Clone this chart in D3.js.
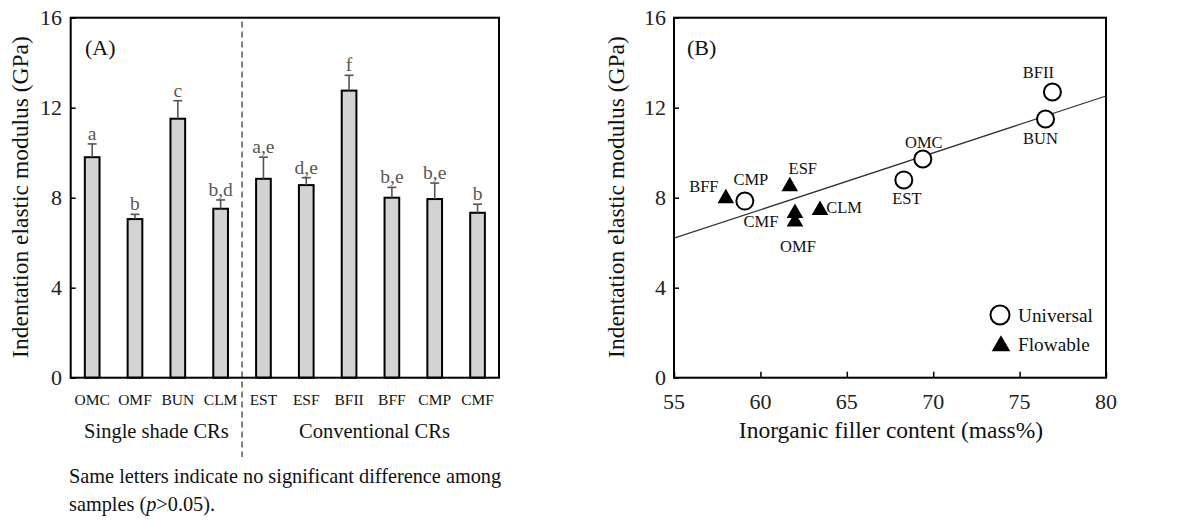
<!DOCTYPE html>
<html><head><meta charset="utf-8">
<script src="https://cdn.jsdelivr.net/npm/d3@7"></script>
<style>body{margin:0;background:#fff}svg{display:block}text{font-family:"Liberation Serif","DejaVu Serif",serif}</style>
</head><body><svg id="c" width="1196" height="520"></svg>
<script>
// Panel A data
const categories = ["OMC","OMF","BUN","CLM","EST","ESF","BFII","BFF","CMP","CMF"];
const means = [9.80,7.05,11.51,7.51,8.84,8.56,12.76,8.00,7.94,7.33];
const errors = [0.59,0.21,0.80,0.39,0.96,0.33,0.68,0.46,0.71,0.38];
const letters = ["a","b","c","b,d","a,e","d,e","f","b,e","b,e","b"];
const groups = [{name:"Single shade CRs",from:0,to:3},{name:"Conventional CRs",from:4,to:9}];
const yTicks = [0,4,8,12,16];
// Panel B data
const uniNames = ["BFII","BUN","OMC","EST","CMP"];
const uniX = [76.9,76.5,69.4,68.3,59.1];
const uniY = [12.7,11.5,9.72,8.79,7.85];
const flowNames = ["BFF","ESF","CMF","OMF","CLM"];
const flowX = [58.0,61.7,62.0,62.0,63.45];
const flowY = [7.97,8.5,7.31,6.93,7.45];
const xTicksB = [55,60,65,70,75,80];
const fitLine = [[55,6.20],[80,12.52]];

const svg = d3.select("#c");
const top0 = 17.7, bot = 377.7;
const y = d3.scaleLinear().domain([0,16]).range([bot, top0]);
const ink = "#111";

// ---------- Panel A ----------
const gA = svg.append("g");
const xA = d3.scaleBand().domain(categories).range([70.7, 499]).paddingInner(0.657).paddingOuter(0.33);
gA.selectAll("rect.bar").data(categories).join("rect")
  .attr("x", d=>xA(d)).attr("width", xA.bandwidth())
  .attr("y", (d,i)=>y(means[i])).attr("height",(d,i)=>y(0)-y(means[i]))
  .attr("fill","#d3d3d3").attr("stroke","#000").attr("stroke-width",2);
const cx = d=>xA(d)+xA.bandwidth()/2;
gA.selectAll("line.err").data(categories).join("line")
  .attr("x1",cx).attr("x2",cx)
  .attr("y1",(d,i)=>y(means[i])).attr("y2",(d,i)=>y(means[i]+errors[i]))
  .attr("stroke","#555").attr("stroke-width",1.6);
gA.selectAll("line.cap").data(categories).join("line")
  .attr("x1",d=>cx(d)-4.5).attr("x2",d=>cx(d)+4.5)
  .attr("y1",(d,i)=>y(means[i]+errors[i])).attr("y2",(d,i)=>y(means[i]+errors[i]))
  .attr("stroke","#555").attr("stroke-width",1.6);
gA.selectAll("text.let").data(categories).join("text")
  .attr("x",cx).attr("y",(d,i)=>y(means[i]+errors[i])-4)
  .attr("text-anchor","middle").attr("font-size",19.5).attr("fill","#5b5650")
  .text((d,i)=>letters[i]);
gA.append("rect").attr("x",70.7).attr("y",top0).attr("width",499-70.7).attr("height",bot-top0)
  .attr("fill","none").attr("stroke","#000").attr("stroke-width",2);
const yAxA = gA.append("g").attr("transform","translate(70.7,0)")
  .call(d3.axisRight(y).tickValues(yTicks).tickSize(5).tickFormat(""));
yAxA.select(".domain").remove();
yAxA.selectAll("line").attr("stroke","#000").attr("stroke-width",1.5);
gA.selectAll("text.yt").data(yTicks).join("text")
  .attr("x",62).attr("y",d=>y(d)).attr("dy","0.35em").attr("text-anchor","end")
  .attr("font-size",22).attr("fill","#222").text(d=>d);
const sepX = xA(categories[4]) - xA.step()*xA.paddingInner()/2;
gA.append("line").attr("x1",sepX).attr("x2",sepX).attr("y1",21.5).attr("y2",457)
  .attr("stroke","#000").attr("stroke-width",1).attr("stroke-dasharray","6,4");
gA.selectAll("text.cat").data(categories).join("text")
  .attr("x",cx).attr("y",405).attr("text-anchor","middle").attr("font-size",15.5).attr("fill",ink)
  .text(d=>d);
gA.selectAll("text.grp").data(groups).join("text")
  .attr("x",d=>(cx(categories[d.from])+cx(categories[d.to]))/2 + (d.from===0?0:4)).attr("y",438)
  .attr("text-anchor","middle").attr("font-size",20.5).attr("fill",ink).text(d=>d.name);
gA.append("text").attr("x",85).attr("y",55).attr("font-size",22).attr("fill",ink).text("(A)");
gA.append("text").attr("transform","translate(28,197) rotate(-90)").attr("text-anchor","middle")
  .attr("font-size",23.5).attr("fill",ink).text("Indentation elastic modulus (GPa)");
const fn = gA.append("text").attr("x",69).attr("y",483).attr("font-size",20.3).attr("fill",ink);
fn.text("Same letters indicate no significant difference among");
const fn2 = gA.append("text").attr("x",69).attr("y",511).attr("font-size",20.3).attr("fill",ink);
fn2.append("tspan").text("samples (");
fn2.append("tspan").attr("font-style","italic").text("p");
fn2.append("tspan").text(">0.05).");

// ---------- Panel B ----------
const gB = svg.append("g");
const xB = d3.scaleLinear().domain([55,80]).range([674,1106]);
gB.append("line").attr("x1",xB(fitLine[0][0])).attr("y1",y(fitLine[0][1]))
  .attr("x2",xB(fitLine[1][0])).attr("y2",y(fitLine[1][1])).attr("stroke","#333").attr("stroke-width",1.3);
gB.append("rect").attr("x",674).attr("y",top0).attr("width",1106-674).attr("height",bot-top0)
  .attr("fill","none").attr("stroke","#000").attr("stroke-width",2);
const yAxB = gB.append("g").attr("transform","translate(674,0)")
  .call(d3.axisRight(y).tickValues(yTicks).tickSize(5).tickFormat(""));
yAxB.select(".domain").remove();
yAxB.selectAll("line").attr("stroke","#000").attr("stroke-width",1.5);
const xAxB = gB.append("g").attr("transform",`translate(0,${bot})`)
  .call(d3.axisTop(xB).tickValues(xTicksB).tickSize(6).tickFormat(""));
xAxB.select(".domain").remove();
xAxB.selectAll("line").attr("stroke","#000").attr("stroke-width",1.5);
gB.selectAll("text.yt").data(yTicks).join("text")
  .attr("x",666).attr("y",d=>y(d)).attr("dy","0.35em").attr("text-anchor","end")
  .attr("font-size",22).attr("fill","#222").text(d=>d);
gB.selectAll("text.xt").data(xTicksB).join("text")
  .attr("x",d=>xB(d)).attr("y",409).attr("text-anchor","middle")
  .attr("font-size",22).attr("fill","#222").text(d=>d);
gB.append("text").attr("x",891).attr("y",438).attr("text-anchor","middle").attr("font-size",23.5)
  .attr("fill",ink).text("Inorganic filler content (mass%)");
gB.append("text").attr("transform","translate(624,197) rotate(-90)").attr("text-anchor","middle")
  .attr("font-size",23.5).attr("fill",ink).text("Indentation elastic modulus (GPa)");
gB.append("text").attr("x",687).attr("y",55).attr("font-size",22).attr("fill",ink).text("(B)");
gB.selectAll("circle.u").data(uniNames).join("circle")
  .attr("cx",(d,i)=>xB(uniX[i])).attr("cy",(d,i)=>y(uniY[i])).attr("r",8.5)
  .attr("fill","#fff").attr("stroke","#000").attr("stroke-width",2);
const tri = d3.symbol().type(d3.symbolTriangle).size(120);
gB.selectAll("path.f").data(flowNames).join("path")
  .attr("d",tri).attr("transform",(d,i)=>`translate(${xB(flowX[i])},${y(flowY[i])})`).attr("fill","#000");
const uniOff = [[-14,-20],[-5,19],[1,-17],[3,18],[6,-22]];
const flowOff = [[-22,-12],[13,-18],[-34,8],[3,24],[24,-3]];
gB.selectAll("text.ul").data(uniNames).join("text")
  .attr("x",(d,i)=>xB(uniX[i])+uniOff[i][0]).attr("y",(d,i)=>y(uniY[i])+uniOff[i][1]).attr("dy","0.35em")
  .attr("text-anchor","middle").attr("font-size",16.5).attr("fill",ink).text(d=>d);
gB.selectAll("text.fl").data(flowNames).join("text")
  .attr("x",(d,i)=>xB(flowX[i])+flowOff[i][0]).attr("y",(d,i)=>y(flowY[i])+flowOff[i][1]).attr("dy","0.35em")
  .attr("text-anchor","middle").attr("font-size",16.5).attr("fill",ink).text(d=>d);
gB.append("circle").attr("cx",1000).attr("cy",315).attr("r",9.5).attr("fill","#fff").attr("stroke","#000").attr("stroke-width",2);
gB.append("path").attr("d",d3.symbol().type(d3.symbolTriangle).size(150)).attr("transform","translate(1001,346)").attr("fill","#000");
gB.append("text").attr("x",1018).attr("y",315).attr("dy","0.35em").attr("font-size",19.3).attr("fill",ink).text("Universal");
gB.append("text").attr("x",1018).attr("y",344).attr("dy","0.35em").attr("font-size",19.3).attr("fill",ink).text("Flowable");
</script></body></html>
